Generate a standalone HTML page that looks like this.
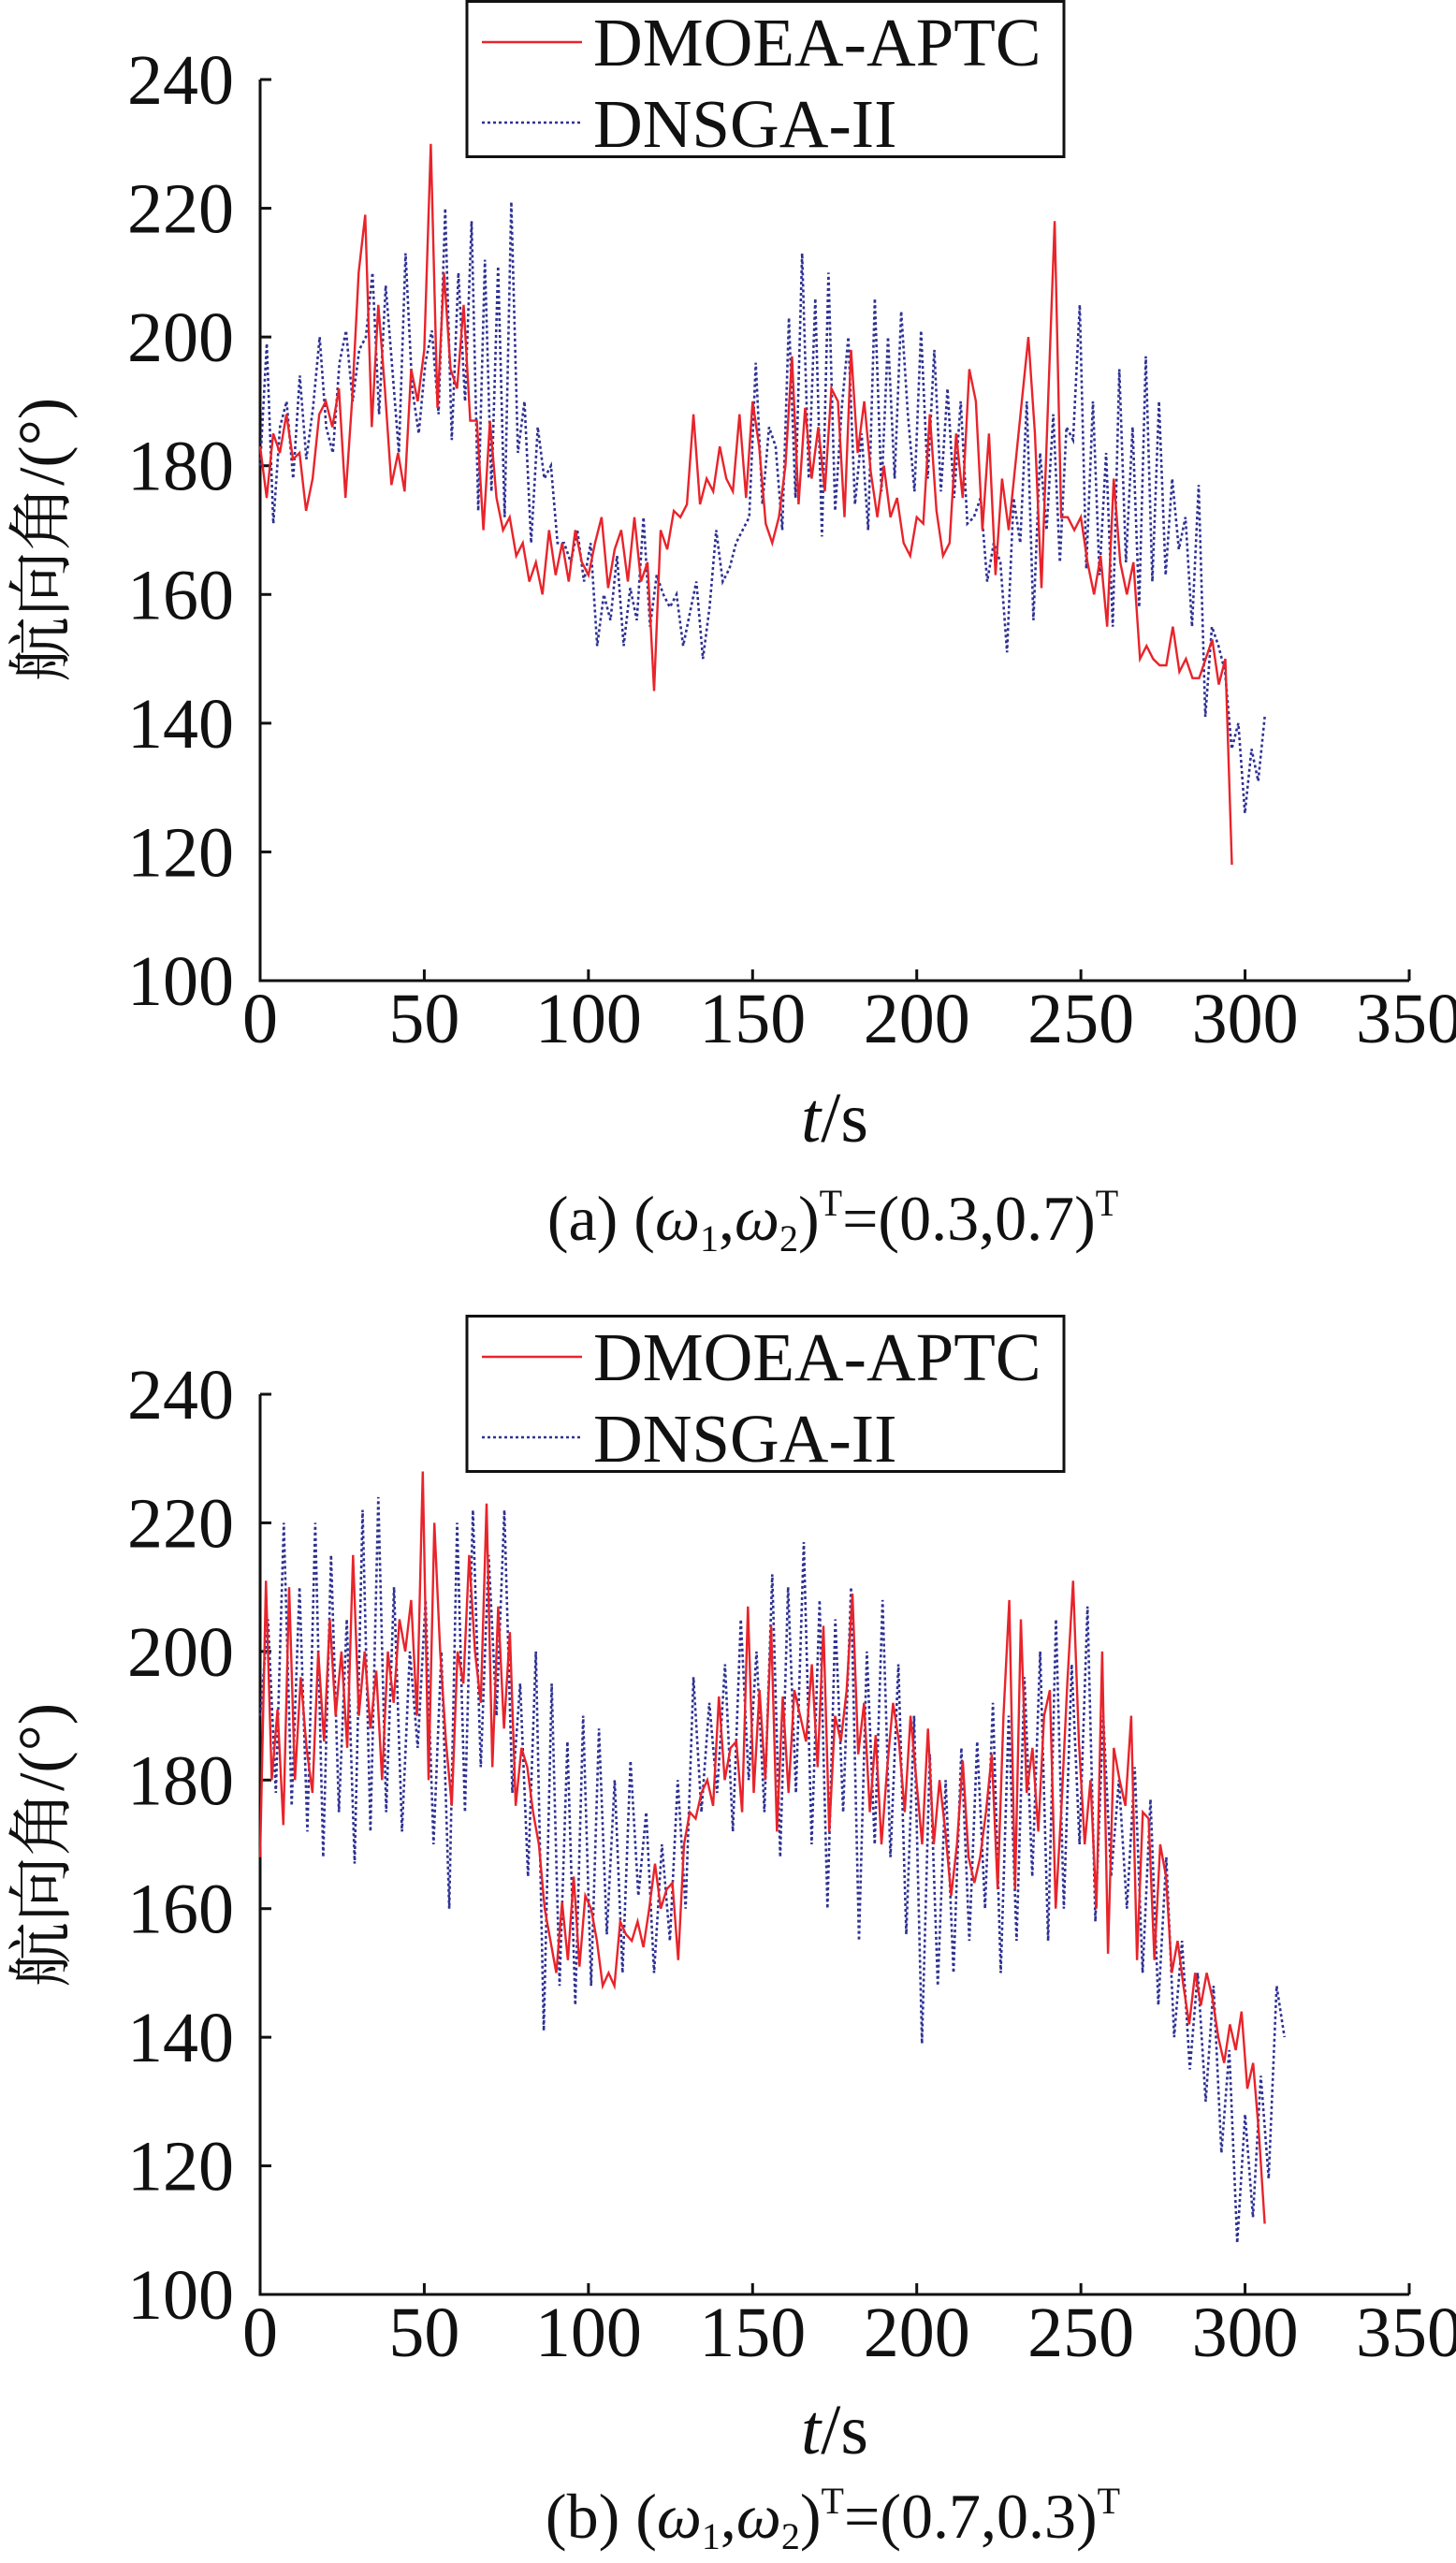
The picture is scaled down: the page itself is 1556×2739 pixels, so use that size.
<!DOCTYPE html>
<html><head><meta charset="utf-8"><style>
html,body{margin:0;padding:0;background:#fff;overflow:hidden}
svg{display:block}
text{font-family:"Liberation Serif","Noto Serif CJK SC",serif;fill:#111}
</style></head><body>
<svg id="fig" width="1556" height="2739" viewBox="0 0 1556 2739" xmlns="http://www.w3.org/2000/svg"></svg>
<script>
// ---- data ----
const xTicks = [0,50,100,150,200,250,300,350];
const yTicks = [100,120,140,160,180,200,220,240];
const seriesNames = ["DMOEA-APTC","DNSGA-II"];
const redAEnd = 296;
const redA = [183,175,185,182,188,181,182,173,178,188,190,186,192,175,190,210,219,186,205,192,177,182,176,195,190,198,230,189,210,195,192,205,187,187,170,187,175,170,172,166,168,162,165,160,170,163,168,162,170,165,163,168,172,161,167,170,162,172,162,165,145,170,167,173,172,174,188,174,178,176,183,178,176,188,175,190,183,171,168,172,180,197,174,189,178,186,176,192,190,172,198,182,190,179,172,180,172,175,168,166,172,171,188,173,166,168,185,175,195,190,170,185,163,178,170,180,190,200,185,161,190,218,172,172,170,172,165,160,166,155,178,165,160,165,150,152,150,149,149,155,148,150,147,147,150,153,146,150,118];
const blueAEnd = 306;
const blueA = [180,199,171,186,190,178,194,181,189,200,186,182,196,201,190,198,200,210,188,208,195,182,213,192,185,196,201,188,220,184,210,190,218,173,212,176,211,172,221,182,190,168,186,178,180,168,168,165,170,162,168,152,160,156,166,152,161,156,172,155,163,160,158,160,152,157,162,150,158,170,162,164,168,170,172,196,174,186,183,170,203,175,213,178,206,169,210,173,189,200,174,185,170,206,176,200,178,204,188,176,201,178,198,176,192,175,190,171,172,175,162,168,165,151,175,168,190,156,182,170,188,165,186,184,205,164,190,163,182,155,195,165,186,158,197,162,190,163,178,167,172,155,177,141,155,152,148,136,140,126,136,131,141];
const redBEnd = 306;
const redB = [168,211,180,191,173,210,180,196,185,178,200,186,205,190,200,185,215,190,200,188,197,180,200,192,205,200,208,190,228,180,220,200,186,176,200,195,215,200,192,223,182,207,188,203,176,185,182,175,170,160,155,150,161,152,165,151,162,160,155,148,150,148,158,156,155,158,154,160,167,160,163,164,152,170,175,174,178,180,176,193,180,185,186,175,207,178,194,180,204,172,193,178,194,190,186,198,182,204,172,190,186,194,209,184,192,175,187,170,182,192,186,175,190,180,170,188,170,180,172,162,170,183,168,164,168,175,184,163,190,208,163,205,178,185,172,190,194,160,176,195,211,186,170,180,160,200,153,185,180,176,190,152,175,174,152,170,165,150,155,148,142,150,145,150,146,140,136,142,138,144,132,136,125,111];
const blueBEnd = 312;
const blueB = [190,205,178,220,176,210,172,220,168,215,175,205,167,222,172,224,175,210,172,200,185,208,170,200,160,220,175,222,182,215,190,222,178,195,165,200,141,195,148,186,145,190,148,188,156,180,150,183,162,175,150,170,155,180,160,196,175,192,178,198,172,205,180,200,175,212,168,210,178,217,170,208,160,205,175,210,155,200,170,208,168,198,156,190,139,184,148,180,150,185,155,186,160,192,150,190,155,196,165,200,155,205,160,198,170,207,158,190,165,180,160,182,150,177,145,168,140,155,135,150,130,148,122,138,108,128,112,134,118,148,140];

const NS="http://www.w3.org/2000/svg";
const svg=document.getElementById('fig');
function mk(tag,attrs,parent,txt){const e=document.createElementNS(NS,tag);for(const k in attrs)e.setAttribute(k,attrs[k]);if(txt!==undefined)e.textContent=txt;(parent||svg).appendChild(e);return e;}

function panel(L, label, wa, wb, red, redEnd, blue, blueEnd, key){
  const g=mk('g',{});
  
  
  const x0=278,x1=1506,yTop=L.yTop,yBot=L.yBot;
  const sx=v=>x0+(v-0)/(350-0)*(x1-x0);
  const sy=v=>yBot-(v-100)/(240-100)*(yBot-yTop);
  const ax=mk('path',{d:`M${x0},${yTop} L${x0},${yBot} L${x1},${yBot}`,fill:'none',stroke:'#111','stroke-width':3},g);
  
  
  xTicks.forEach(t=>{
    const X=sx(t);
    mk('line',{x1:X,y1:yBot,x2:X,y2:yBot-12,stroke:'#111','stroke-width':3},g);
    const tl=mk('text',{x:X,y:yBot+66,'font-size':76,'text-anchor':'middle'},g,String(t));
    
    
  });
  yTicks.forEach(t=>{
    const Y=sy(t);
    mk('line',{x1:x0,y1:Y,x2:x0+12,y2:Y,stroke:'#111','stroke-width':3},g);
    const tl=mk('text',{x:250,y:Y+26,'font-size':76,'text-anchor':'end'},g,String(t));
    
    
  });
  const pts=(arr,end)=>arr.map((v,i)=>`${sx(i*end/(arr.length-1)).toFixed(1)},${sy(v).toFixed(1)}`).join(' ');
  const b=mk('polyline',{points:pts(blue,blueEnd),fill:'none',stroke:'#2e3192','stroke-width':2.6,'stroke-dasharray':'3,3'},g);
  
  
  const r=mk('polyline',{points:pts(red,redEnd),fill:'none',stroke:'#e8242b','stroke-width':2.4},g);
  
  
  const lg=mk('g',{},g);
  
  
  const ly=L.legY;
  mk('rect',{x:499,y:ly+1.5,width:638,height:166,fill:'#fff',stroke:'#111','stroke-width':3},lg);
  mk('line',{x1:515,y1:ly+45,x2:622,y2:ly+45,stroke:'#e8242b','stroke-width':2.4},lg);
  mk('line',{x1:515,y1:ly+131,x2:622,y2:ly+131,stroke:'#2e3192','stroke-width':2.6,'stroke-dasharray':'3,3'},lg);
  const e1=mk('text',{x:634,y:ly+70,'font-size':73},lg,seriesNames[0]);
  
  
  const e2=mk('text',{x:634,y:ly+157,'font-size':73},lg,seriesNames[1]);
  
  
  const yt=mk('text',{x:0,y:0,'font-size':70,'text-anchor':'middle',transform:`translate(68,${L.ytY}) rotate(-90)`},g,'航向角/(°)');
  
  
  const xt=mk('text',{x:892,y:L.xtY,'font-size':76,'text-anchor':'middle'},g);
  
  
  mk('tspan',{'font-style':'italic'},xt,'t');
  mk('tspan',{},xt,'/s');
  const cp=mk('text',{x:890,y:L.capY,'font-size':68,'text-anchor':'middle'},g);
  
  
  mk('tspan',{},cp,label+' (');
  mk('tspan',{'font-style':'italic'},cp,'ω');
  mk('tspan',{'font-size':40,dy:12},cp,'1');
  mk('tspan',{dy:-12},cp,',');
  mk('tspan',{'font-style':'italic'},cp,'ω');
  mk('tspan',{'font-size':40,dy:12},cp,'2');
  mk('tspan',{dy:-12},cp,')');
  mk('tspan',{'font-size':40,dy:-26},cp,'T');
  mk('tspan',{dy:26},cp,'=('+wa+','+wb+')');
  mk('tspan',{'font-size':40,dy:-26},cp,'T');
}
panel({yTop:85,yBot:1048,legY:0,ytY:577,xtY:1220,capY:1325},'(a)','0.3','0.7',redA,redAEnd,blueA,blueAEnd,'a');
panel({yTop:1490,yBot:2452,legY:1405,ytY:1972,xtY:2622,capY:2712},'(b)','0.7','0.3',redB,redBEnd,blueB,blueBEnd,'b');
</script>
</body></html>
